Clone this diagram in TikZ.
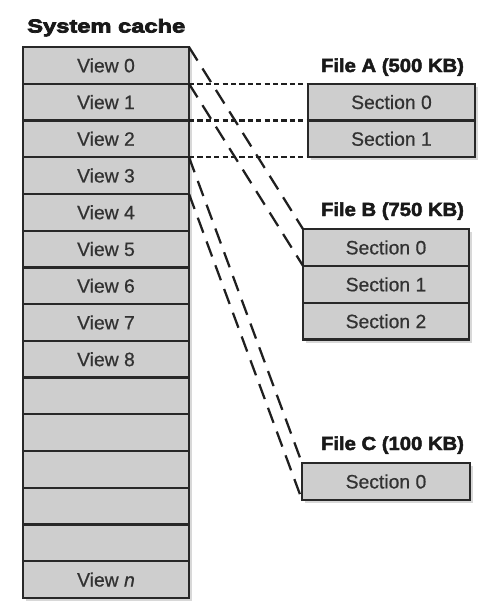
\documentclass[tikz,border=0pt]{standalone}
\usepackage{fontspec}
\setmainfont{Liberation Sans}
\newfontfamily\headfont[FakeStretch=1.26,FakeBold=4]{Liberation Sans}
\newfontfamily\labfont[FakeStretch=1.07,FakeBold=2.5]{Liberation Sans}
\newfontfamily\cellfont[FakeBold=0.6]{Liberation Sans}
\usetikzlibrary{shadows}
\definecolor{cellgray}{RGB}{206,206,206}
\definecolor{textgray}{RGB}{50,50,50}
\definecolor{edgegray}{RGB}{40,40,40}
\tikzset{
  cell/.style={draw=edgegray, line width=1.7pt, fill=cellgray, text=textgray,
    minimum height=27.55pt, inner sep=0pt, outer sep=0pt,
    font=\cellfont\fontsize{14.5}{17}\selectfont,
    drop shadow={shadow xshift=2.2pt, shadow yshift=-2.2pt, fill=black!25, opacity=0.6}},
  cachecell/.style={cell, minimum width=124.5pt},
  lab/.style={anchor=base, text=black!90, font=\labfont\bfseries\fontsize{14.2}{17}\selectfont, inner sep=0pt},
  hdash/.style={draw=black!88, line width=1.7pt, dash pattern=on 3.9pt off 2.4pt},
  ddash/.style={draw=black!88, line width=1.7pt, dash pattern=on 12pt off 7pt},
}
\begin{document}
\begin{tikzpicture}[x=0.75pt,y=-0.75pt]
\useasboundingbox (0,0) rectangle (500,614);
\fill[white] (0,0) rectangle (500,614);
% title
\node[anchor=base west, inner sep=0pt, text=black!90, font=\headfont\bfseries\fontsize{14.1}{16}\selectfont] (title) at (27,32.5) {System cache};
% cache rows
\foreach \i/\t in {0/View 0,1/View 1,2/View 2,3/View 3,4/View 4,5/View 5,6/View 6,7/View 7,8/View 8,9/,10/,11/,12/,13/}{
  \node[cachecell] (v\i) at (106,{47+36.733*(\i+0.5)}) {\t};
}
\node[cachecell] (v14) at (106,{47+36.733*14.5}) {View \textit{n}};
% File A
\node[lab] (la) at (392.5,72) {File A (500 KB)};
\node[cell, minimum width=125.25pt] (a0) at (391.5,{47+36.733*1.5}) {Section 0};
\node[cell, minimum width=125.25pt] (a1) at (391.5,{47+36.733*2.5}) {Section 1};
% File B
\node[lab] (lb) at (392.5,216) {File B (750 KB)};
\node[cell, minimum width=124.5pt] (b0) at (386,{229+36.9*0.5}) {Section 0};
\node[cell, minimum width=124.5pt] (b1) at (386,{229+36.9*1.5}) {Section 1};
\node[cell, minimum width=124.5pt] (b2) at (386,{229+36.9*2.5}) {Section 2};
% File C
\node[lab] (lc) at (392.5,450) {File C (100 KB)};
\node[cell, minimum width=126pt] (c0) at (386,481.5) {Section 0};
% horizontal mappings
\draw[hdash] (v1.north east) -- (a0.north west);
\draw[hdash] (v2.north east) -- (a1.north west);
\draw[hdash] (v2.south east) -- (a1.south west);
% diagonal mappings
\draw[ddash] (v0.north east) -- (b0.north west);
\draw[ddash] (v1.north east) -- (b0.south west);
\draw[ddash] (v3.north east) -- (c0.north west);
\draw[ddash] (v4.north east) -- (c0.south west);
\end{tikzpicture}
\end{document}
